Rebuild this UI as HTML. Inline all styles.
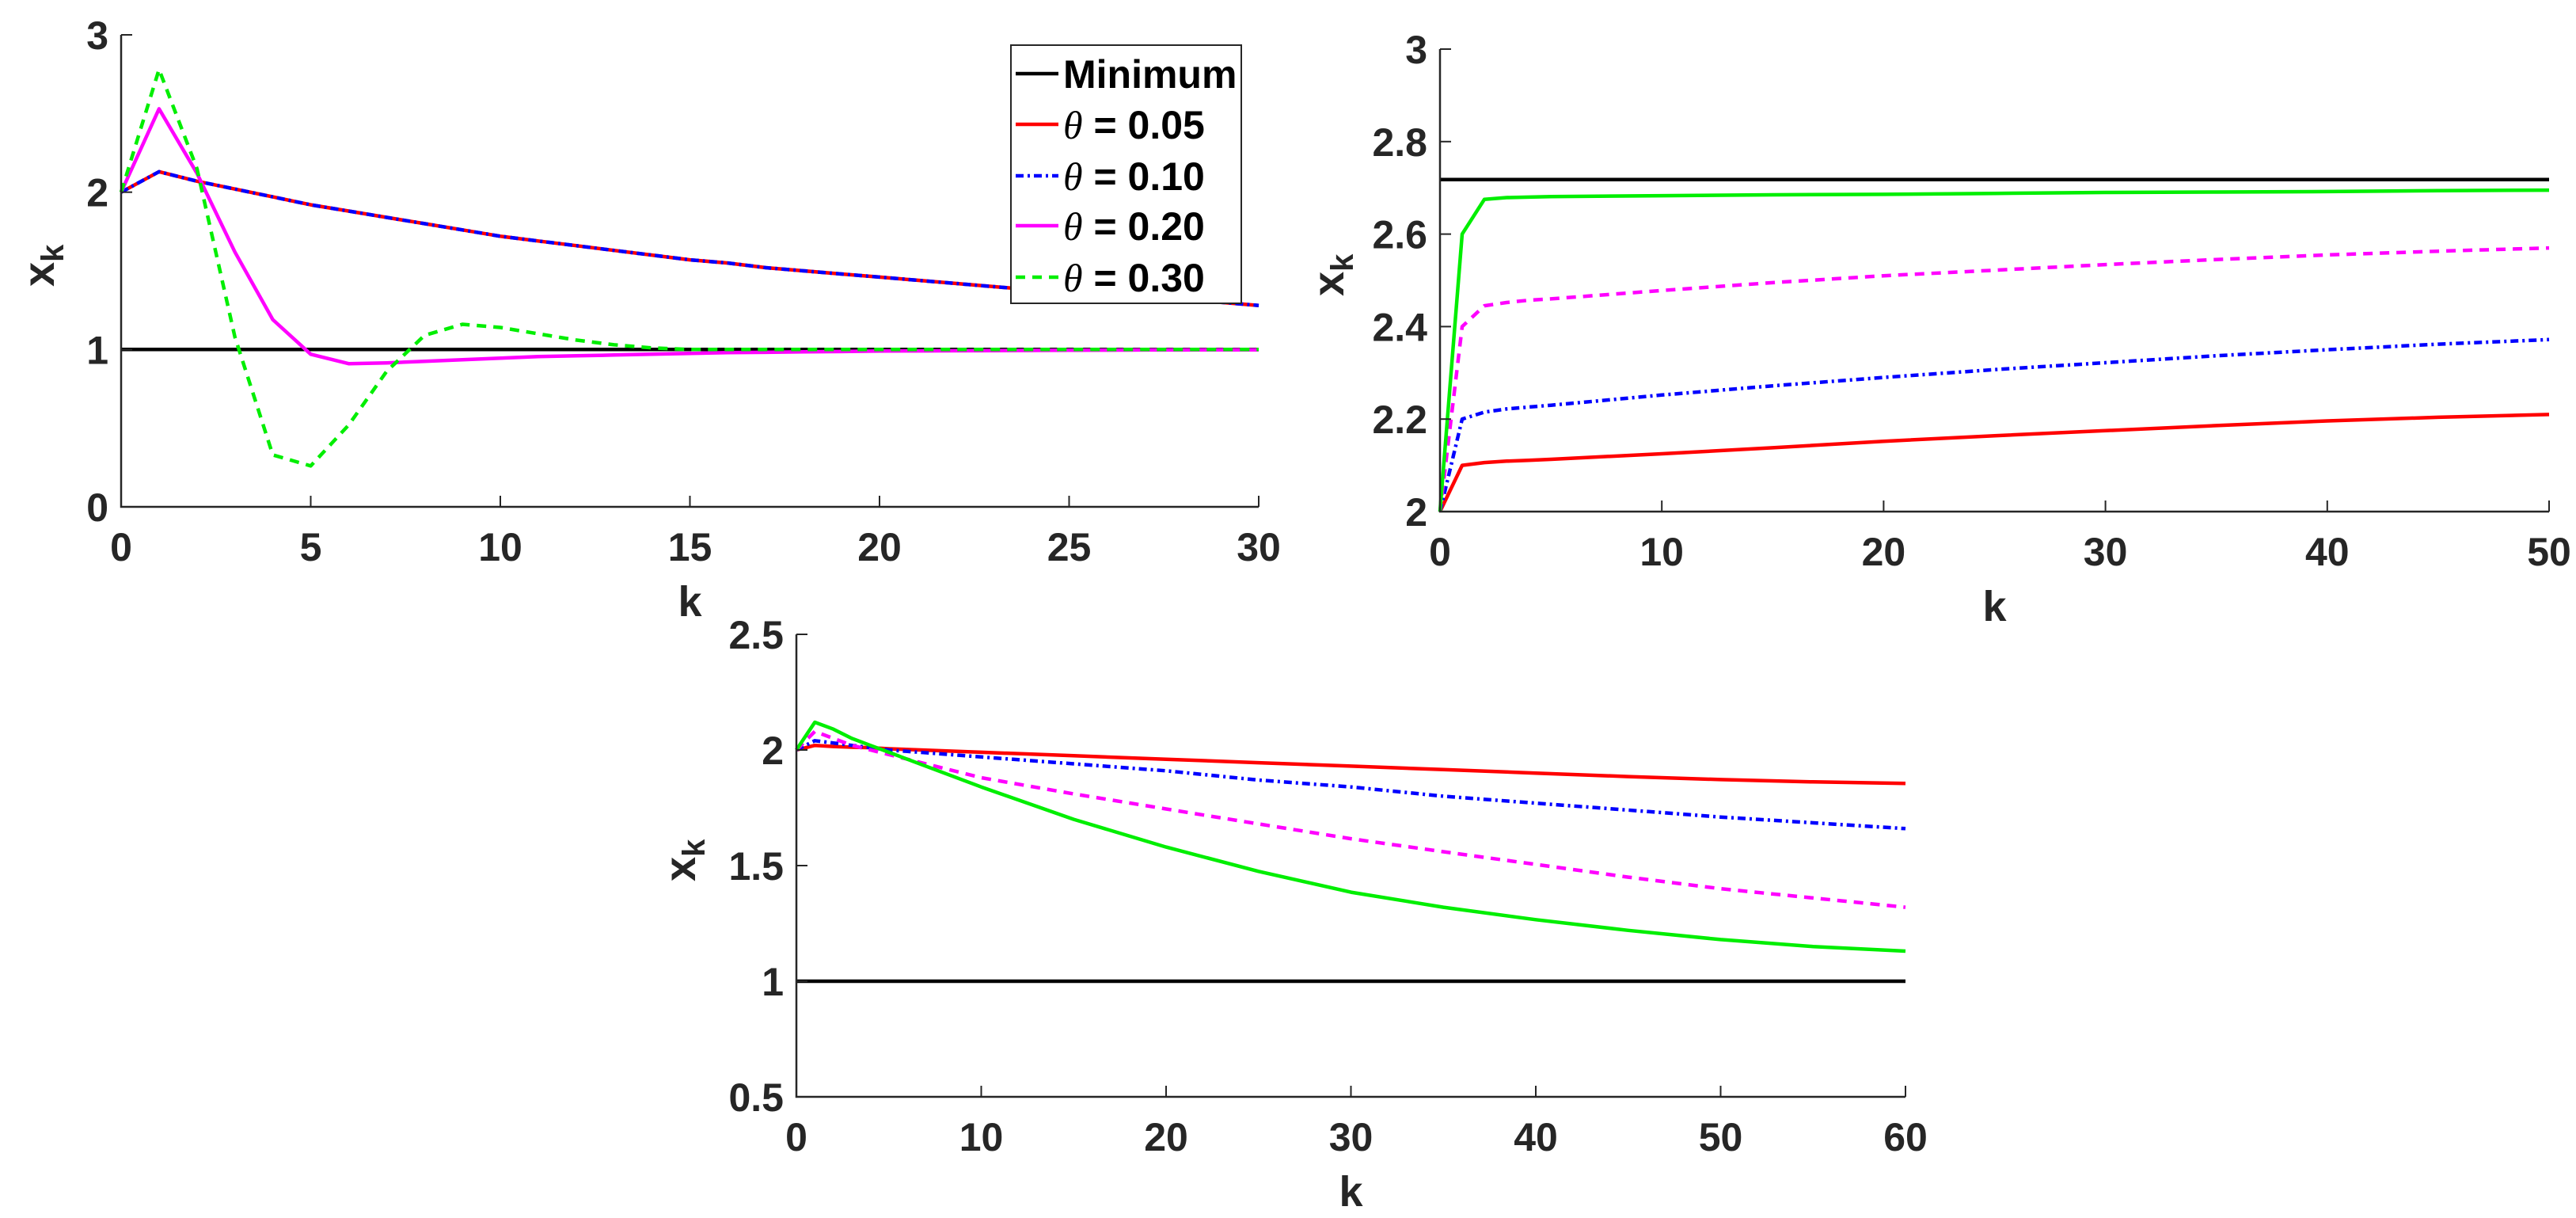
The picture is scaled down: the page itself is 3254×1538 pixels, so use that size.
<!DOCTYPE html>
<html><head><meta charset="utf-8"><style>
html,body{margin:0;padding:0;background:#fff;}
svg{display:block;font-family:"Liberation Sans",Arial,sans-serif;font-weight:bold;}
</style></head><body>
<svg id="fig" width="3254" height="1538" viewBox="0 0 3254 1538" xmlns="http://www.w3.org/2000/svg"></svg>
<script>
// ---- Panel 1 data (k = 0..30) ----
const p1K = [0,1,2,3,4,5,6,7,8,9,10,11,12,13,14,15,16,17,18,19,20,21,22,23,24,25,26,27,28,29,30];
const p1Min = [1,1];
const p1T005 = [2,2.13,2.07,2.02,1.97,1.92,1.88,1.84,1.80,1.76,1.72,1.69,1.66,1.63,1.60,1.57,1.55,1.52,1.50,1.48,1.46,1.44,1.42,1.40,1.38,1.36,1.35,1.33,1.32,1.30,1.28];
const p1T010 = [2,2.13,2.07,2.02,1.97,1.92,1.88,1.84,1.80,1.76,1.72,1.69,1.66,1.63,1.60,1.57,1.55,1.52,1.50,1.48,1.46,1.44,1.42,1.40,1.38,1.36,1.35,1.33,1.32,1.30,1.28];
const p1T020 = [2,2.53,2.12,1.62,1.19,0.97,0.91,0.915,0.925,0.935,0.945,0.955,0.96,0.965,0.97,0.975,0.98,0.982,0.985,0.987,0.99,0.991,0.992,0.993,0.994,0.995,0.996,0.997,0.997,0.998,0.998];
const p1T030 = [2,2.78,2.15,1.08,0.33,0.26,0.52,0.86,1.09,1.16,1.14,1.10,1.06,1.03,1.01,1.0,1.0,1.0,1.0,1.0,1.0,1.0,1.0,1.0,1.0,1.0,1.0,1.0,1.0,1.0,1.0];
const p1XTicks = [0,5,10,15,20,25,30];
const p1YTicks = [0,1,2,3];
// ---- Panel 2 data (k = 0..50) ----
const p2K = [0,1,2,3,4,5,10,15,20,25,30,35,40,45,50];
const p2Min = [2.718,2.718];
const p2T005 = [2,2.10,2.106,2.109,2.111,2.113,2.125,2.138,2.152,2.164,2.175,2.186,2.196,2.204,2.21];
const p2T010 = [2,2.20,2.215,2.222,2.226,2.230,2.252,2.272,2.290,2.307,2.322,2.337,2.350,2.362,2.372];
const p2T020 = [2,2.40,2.445,2.452,2.457,2.46,2.478,2.495,2.51,2.522,2.534,2.545,2.555,2.563,2.57];
const p2T030 = [2,2.60,2.675,2.679,2.68,2.681,2.683,2.685,2.686,2.688,2.69,2.691,2.692,2.694,2.695];
const p2XTicks = [0,10,20,30,40,50];
const p2YTicks = [2,2.2,2.4,2.6,2.8,3];
const p2YLabels = ["2","2.2","2.4","2.6","2.8","3"];
// ---- Panel 3 data (k = 0..60) ----
const p3K = [0,1,2,3,4,5,10,15,20,25,30,35,40,45,50,55,60];
const p3Min = [1,1];
const p3T005 = [2,2.02,2.015,2.012,2.01,2.005,1.99,1.975,1.96,1.945,1.93,1.915,1.9,1.885,1.872,1.862,1.855];
const p3T010 = [2,2.04,2.03,2.02,2.01,2.0,1.97,1.94,1.91,1.87,1.84,1.80,1.77,1.74,1.71,1.685,1.66];
const p3T020 = [2,2.08,2.05,2.02,2.0,1.98,1.88,1.81,1.745,1.68,1.616,1.56,1.505,1.45,1.40,1.36,1.32];
const p3T030 = [2,2.12,2.09,2.05,2.02,1.99,1.84,1.70,1.58,1.475,1.385,1.32,1.266,1.22,1.18,1.15,1.13];
const p3XTicks = [0,10,20,30,40,50,60];
const p3YTicks = [0.5,1,1.5,2,2.5];
const p3YLabels = ["0.5","1","1.5","2","2.5"];

const NS = "http://www.w3.org/2000/svg";
const svg = document.getElementById('fig');
function mk(tag, attrs, parent){
  const e = document.createElementNS(NS, tag);
  for (const k in attrs) e.setAttribute(k, attrs[k]);
  (parent||svg).appendChild(e);
  return e;
}
const STY = {
  red:{stroke:'#ff0000',dash:''},
  blue:{stroke:'#0000ff',dash:'10,5,3,5'},
  magSolid:{stroke:'#ff00ff',dash:''},
  magDash:{stroke:'#ff00ff',dash:'12,9'},
  grnSolid:{stroke:'#00ee00',dash:''},
  grnDash:{stroke:'#00ee00',dash:'12,9'},
  black:{stroke:'#000000',dash:''}
};
function panel(name, L, R, T, B, xmin, xmax, ymin, ymax, xt, yt, ylab, yoff, series){
  const g = mk('g', {});
  
  
  const sx = v => L + (v - xmin) / (xmax - xmin) * (R - L);
  const sy = v => B - (v - ymin) / (ymax - ymin) * (B - T);
  series.forEach(s => {
    const pts = s.x.map((xv,i) => sx(xv).toFixed(1) + ',' + sy(s.y[i]).toFixed(1)).join(' ');
    const p = mk('polyline', {points:pts, fill:'none', stroke:STY[s.st].stroke, 'stroke-width':4.5, 'stroke-linejoin':'round'}, g);
    if (STY[s.st].dash) p.setAttribute('stroke-dasharray', STY[s.st].dash);
    
    
  });
  const ax = mk('path', {d:`M${L},${T} L${L},${B} L${R},${B}`, fill:'none', stroke:'#262626', 'stroke-width':2.5}, g);
  
  
  xt.forEach(v => {
    mk('line', {x1:sx(v), x2:sx(v), y1:B, y2:B-14, stroke:'#262626', 'stroke-width':2}, g);
    const t = mk('text', {x:sx(v), y:B+68, 'text-anchor':'middle', 'font-size':50, fill:'#262626'}, g);
    t.textContent = v;
    
    
  });
  yt.forEach((v,i) => {
    mk('line', {x1:L, x2:L+14, y1:sy(v), y2:sy(v), stroke:'#262626', 'stroke-width':2}, g);
    const t = mk('text', {x:L-16, y:sy(v)+18, 'text-anchor':'end', 'font-size':50, fill:'#262626'}, g);
    t.textContent = ylab ? ylab[i] : v;
    
    
  });
  const xl = mk('text', {x:(L+R)/2, y:B+138, 'text-anchor':'middle', 'font-size':54, fill:'#262626'}, g);
  xl.textContent = 'k';
  
  
  const cy = (T+B)/2;
  const yl = mk('text', {x:0, y:0, transform:`translate(${L-yoff},${cy+20}) rotate(-90)`, 'font-size':56, fill:'#262626'}, g);
  
  
  const t1 = mk('tspan', {}, yl); t1.textContent = 'x';
  const t2 = mk('tspan', {'font-size':40, dy:12}, yl); t2.textContent = 'k';
  return {sx, sy};
}
panel('panel-top-left', 153, 1590, 44, 640, 0, 30, 0, 3, p1XTicks, p1YTicks, null, 85, [
  {name:'minimum-line', x:[0,30], y:p1Min, st:'black'},
  {name:'theta-0.05', x:p1K, y:p1T005, st:'red'},
  {name:'theta-0.10', x:p1K, y:p1T010, st:'blue'},
  {name:'theta-0.20', x:p1K, y:p1T020, st:'magSolid'},
  {name:'theta-0.30', x:p1K, y:p1T030, st:'grnDash'}
]);
panel('panel-top-right', 1819, 3220, 62, 646, 0, 50, 2, 3, p2XTicks, p2YTicks, p2YLabels, 122, [
  {name:'minimum-line', x:[0,50], y:p2Min, st:'black'},
  {name:'theta-0.05', x:p2K, y:p2T005, st:'red'},
  {name:'theta-0.10', x:p2K, y:p2T010, st:'blue'},
  {name:'theta-0.20', x:p2K, y:p2T020, st:'magDash'},
  {name:'theta-0.30', x:p2K, y:p2T030, st:'grnSolid'}
]);
panel('panel-bottom', 1006, 2407, 801, 1385, 0, 60, 0.5, 2.5, p3XTicks, p3YTicks, p3YLabels, 128, [
  {name:'minimum-line', x:[0,60], y:p3Min, st:'black'},
  {name:'theta-0.05', x:p3K, y:p3T005, st:'red'},
  {name:'theta-0.10', x:p3K, y:p3T010, st:'blue'},
  {name:'theta-0.20', x:p3K, y:p3T020, st:'magDash'},
  {name:'theta-0.30', x:p3K, y:p3T030, st:'grnSolid'}
]);
const lg = mk('g', {});


mk('rect', {x:1277, y:57, width:291, height:326, fill:'#fff', stroke:'#262626', 'stroke-width':2}, lg);
const legNames = ['Minimum','θ = 0.05','θ = 0.10','θ = 0.20','θ = 0.30'];
const legSty = ['black','red','blue','magSolid','grnDash'];
const legY = [93,157,222,285,350];
legNames.forEach((n,i) => {
  const l = mk('line', {x1:1283, x2:1337, y1:legY[i], y2:legY[i], stroke:STY[legSty[i]].stroke, 'stroke-width':4.5}, lg);
  if (STY[legSty[i]].dash) l.setAttribute('stroke-dasharray', STY[legSty[i]].dash);
  const t = mk('text', {x:1343, y:legY[i]+18, 'font-size':50, fill:'#000'}, lg);
  
  
  if (i === 0) { t.textContent = n; }
  else {
    const a = mk('tspan', {'font-family':'"Liberation Serif",serif','font-style':'italic','font-weight':'normal'}, t);
    a.textContent = 'θ';
    const b = mk('tspan', {}, t);
    b.textContent = n.slice(1);
  }
});
</script>
</body></html>
